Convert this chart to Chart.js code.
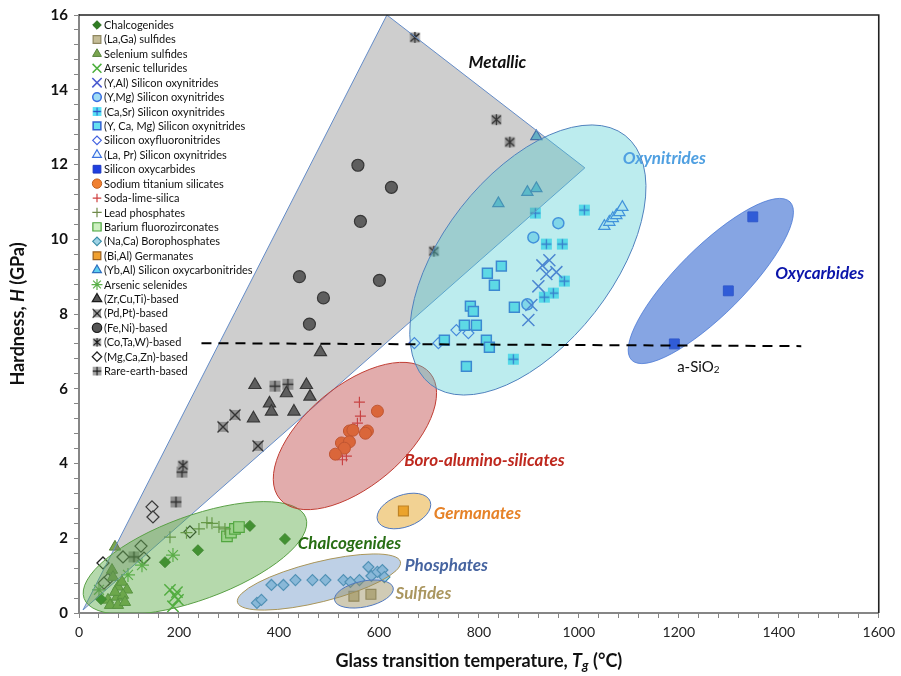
<!DOCTYPE html>
<html><head><meta charset="utf-8">
<script src="https://cdn.jsdelivr.net/npm/chart.js@4.4.1/dist/chart.umd.min.js"></script>
<style>html,body{margin:0;padding:0;background:#fff;}</style>
</head><body>
<canvas id="c" width="901" height="676"></canvas>
<script>
// ---------- DATA (Tg in °C, H in GPa) ----------
const chalcogenides = [[44,0.37],[172,1.36],[238,1.68],[342,2.33],[412,1.98]];
const laGaSulfides = [[550,0.45],[584,0.5]];
const seleniumSulfides = [[72,1.77],[66,1.15],[68,0.96],[78,0.70],[86,0.83],[96,0.62],[58,0.35],[76,0.43],[88,0.48],[62,0.21],[78,0.21],[92,0.29],[72,0.56]];
const arsenicTellurides = [[196,0.56],[182,0.62],[198,0.35],[188,0.18],[192,0.45]];
const yAlSiON = [[941,9.44],[935,9.07],[955,9.12],[927,9.3],[919,8.74],[905,8.24],[899,7.84]];
const yMgSiON = [[959,10.43],[909,10.05],[897,8.26]];
const caSrSiON = [[913,10.7],[1011,10.78],[935,9.87],[967,9.87],[971,8.88],[949,8.56],[931,8.45],[869,6.79]];
const yCaMgSiON = [[845,9.28],[817,9.09],[831,8.77],[871,8.18],[783,8.21],[789,8.07],[771,7.7],[795,7.7],[731,7.3],[815,7.3],[821,7.11],[775,6.6]];
const siOxyfluoronitrides = [[755,7.57],[779,7.49],[671,7.22],[719,7.22]];
const laPrSiON = [[1051,10.35],[1061,10.46],[1068,10.56],[1075,10.64],[1081,10.72],[1087,10.86]];
const siOxycarbides = [[1348,10.6],[1299,8.62],[1191,7.2]];
const sodiumTitaniumSilicates = [[597,5.4],[541,4.87],[548,4.89],[577,4.87],[573,4.81],[525,4.55],[541,4.58],[531,4.41],[513,4.25]];
const sodaLimeSilica = [[561,5.64],[563,5.27],[557,5.08],[527,4.1],[535,4.2]];
const leadPhosphates = [[182,2.03],[215,2.15],[240,2.25],[256,2.42],[266,2.4],[280,2.3],[292,2.25]];
const bariumFluorozirconates = [[296,2.05],[304,2.15],[312,2.25],[320,2.3]];
const naCaBorophosphates = [[356,0.27],[365,0.35],[385,0.75],[409,0.75],[433,0.88],[467,0.88],[493,0.88],[529,0.88],[543,0.83],[561,0.88],[585,0.99],[579,1.23],[597,1.1],[607,1.15],[611,0.96]];
const biAlGermanates = [[649,2.73]];
const ybAlSiOCN = [[915,12.75],[897,11.26],[915,11.36],[839,10.96]];
const arsenicSelenides = [[188,1.55],[126,1.28],[98,1.02],[40,0.62]];
const zrCuTiBased = [[483,6.98],[352,6.1],[455,6.1],[415,5.88],[462,5.79],[381,5.61],[385,5.39],[430,5.39],[349,5.21]];
const pdPtBased = [[288,4.98],[312,5.3],[358,4.47]];
const feNiBased = [[558,11.98],[625,11.39],[563,10.48],[441,9.0],[601,8.9],[489,8.43],[461,7.73]];
const coTaWBased = [[672,15.4],[835,13.2],[862,12.6],[710,9.68],[208,3.95]];
const mgCaZnBased = [[146,2.84],[148,2.57],[222,2.17],[124,1.79],[88,1.5],[130,1.47],[48,1.34],[58,0.9],[50,0.8]];
const rareEarthBased = [[206,3.77],[194,2.97],[110,1.5],[392,6.07],[418,6.12]];

const aSiO2Line = [[245,7.22],[1445,7.14]];
const xTickLabels = [0,200,400,600,800,1000,1200,1400,1600];
const yTickLabels = [0,2,4,6,8,10,12,14,16];

// ---------- custom marker images ----------
function mk(size, draw){ const c=document.createElement('canvas'); c.width=size; c.height=size; const g=c.getContext('2d'); draw(g,size); return c; }
const grayPlus = mk(13,(g)=>{ g.fillStyle='rgb(165,165,165)'; g.fillRect(1,1,11,11); g.strokeStyle='#111'; g.lineWidth=1.4; g.beginPath(); g.moveTo(6.5,1); g.lineTo(6.5,12); g.moveTo(1,6.5); g.lineTo(12,6.5); g.stroke(); });
const grayX = mk(14,(g)=>{ g.fillStyle='rgb(165,165,165)'; g.fillRect(2,2,10,10); g.strokeStyle='#111'; g.lineWidth=1.4; g.beginPath(); g.moveTo(1.5,1.5); g.lineTo(12.5,12.5); g.moveTo(12.5,1.5); g.lineTo(1.5,12.5); g.stroke(); });
const grayAster = mk(13,(g)=>{ g.fillStyle='rgb(170,170,170)'; g.fillRect(1.5,1.5,10,10); g.strokeStyle='#111'; g.lineWidth=1.3; g.beginPath(); g.moveTo(2,2.5); g.lineTo(11,10.5); g.moveTo(11,2.5); g.lineTo(2,10.5); g.moveTo(6.5,1); g.lineTo(6.5,12); g.stroke(); });
const cyanPlus = mk(13,(g)=>{ g.fillStyle='rgb(90,225,245)'; g.fillRect(1,1,11,11); g.strokeStyle='rgb(40,80,200)'; g.lineWidth=1.3; g.beginPath(); g.moveTo(6.5,1.5); g.lineTo(6.5,11.5); g.moveTo(1.5,6.5); g.lineTo(11.5,6.5); g.stroke(); });

const series = [
 {label:'Chalcogenides', data:chalcogenides, ps:'rectRot', r:5.5, bg:'#2f7d22', bc:'#2a6b1e', bw:1},
 {label:'(La,Ga) sulfides', data:laGaSulfides, ps:'rect', r:7, bg:'#c5bd97', bc:'#8f8760', bw:1.2},
 {label:'Selenium sulfides', data:seleniumSulfides, ps:'triangle', r:6.5, bg:'#7aa54f', bc:'#55803a', bw:1},
 {label:'Arsenic tellurides', data:arsenicTellurides, ps:'crossRot', r:8, bg:'#4caf3c', bc:'#4caf3c', bw:1.5},
 {label:'(Y,Al) Silicon oxynitrides', data:yAlSiON, ps:'crossRot', r:8.5, bg:'#4a5bd0', bc:'#4a5bd0', bw:1.5},
 {label:'(Y,Mg) Silicon oxynitrides', data:yMgSiON, ps:'circle', r:5.5, bg:'#9fdcf5', bc:'#3a6ee0', bw:1.5},
 {label:'(Ca,Sr) Silicon oxynitrides', data:caSrSiON, ps:cyanPlus, r:6},
 {label:'(Y, Ca, Mg) Silicon oxynitrides', data:yCaMgSiON, ps:'rect', r:7, bg:'#66e0f0', bc:'#3060d0', bw:1.5},
 {label:'Silicon oxyfluoronitrides', data:siOxyfluoronitrides, ps:'rectRot', r:5.5, bg:'#ffffff', bc:'#4060e0', bw:1.2},
 {label:'(La, Pr) Silicon oxynitrides', data:laPrSiON, ps:'triangle', r:6.5, bg:'#e8f6ff', bc:'#3a70e0', bw:1.2},
 {label:'Silicon oxycarbides', data:siOxycarbides, ps:'rect', r:7, bg:'#1f3fe0', bc:'#1a35c0', bw:1},
 {label:'Sodium titanium silicates', data:sodiumTitaniumSilicates, ps:'circle', r:6, bg:'#f08030', bc:'#c06020', bw:1},
 {label:'Soda-lime-silica', data:sodaLimeSilica, ps:'cross', r:5.5, bg:'#d04040', bc:'#d04040', bw:1.2},
 {label:'Lead phosphates', data:leadPhosphates, ps:'cross', r:6, bg:'#6f8a4a', bc:'#6f8a4a', bw:1.2},
 {label:'Barium fluorozirconates', data:bariumFluorozirconates, ps:'rect', r:7.5, bg:'#cdf0c0', bc:'#4aa33a', bw:1.2},
 {label:'(Na,Ca) Borophosphates', data:naCaBorophosphates, ps:'rectRot', r:5.5, bg:'#9fd3e6', bc:'#3b8ea8', bw:1.2},
 {label:'(Bi,Al) Germanates', data:biAlGermanates, ps:'rect', r:7, bg:'#f0a030', bc:'#9a6020', bw:1.2},
 {label:'(Yb,Al) Silicon oxycarbonitrides', data:ybAlSiOCN, ps:'triangle', r:6.5, bg:'#5fd0f0', bc:'#2d70c0', bw:1.2},
 {label:'Arsenic selenides', data:arsenicSelenides, ps:'star', r:7, bg:'#5bb04a', bc:'#5bb04a', bw:1.2},
 {label:'(Zr,Cu,Ti)-based', data:zrCuTiBased, ps:'triangle', r:7, bg:'#555555', bc:'#1a1a1a', bw:1.2},
 {label:'(Pd,Pt)-based', data:pdPtBased, ps:grayX, r:7},
 {label:'(Fe,Ni)-based', data:feNiBased, ps:'circle', r:6, bg:'#555555', bc:'#1a1a1a', bw:1.2},
 {label:'(Co,Ta,W)-based', data:coTaWBased, ps:grayAster, r:6},
 {label:'(Mg,Ca,Zn)-based', data:mgCaZnBased, ps:'rectRot', r:6, bg:'#ffffff', bc:'#222222', bw:1.3},
 {label:'Rare-earth-based', data:rareEarthBased, ps:grayPlus, r:6}
];

// ---------- region shapes (data coordinates) ----------
const regionPolygon = {pts:[[8,0.08],[616,16.0],[1012,11.91]], fill:'rgba(110,110,110,0.34)', stroke:'rgb(100,140,200)'};
const regionEllipses = [
 {c:[232,1.47], e:[453.8,2.55], ratio:0.356, fill:'rgba(90,170,70,0.45)', stroke:'rgb(90,160,70)'},
 {c:[552,4.736], e:[702.2,6.42], ratio:0.51, fill:'rgba(190,70,70,0.45)', stroke:'rgb(192,60,50)'},
 {c:[898,9.445], e:[1092.6,12.776], ratio:0.538, fill:'rgba(80,205,210,0.38)', stroke:'rgb(79,129,189)'},
 {c:[1264,8.883], e:[1422.4,11.0], ratio:0.30, fill:'rgba(60,110,210,0.62)', stroke:'rgba(60,110,210,0.7)'},
 {c:[650,2.729], e:[702.6,2.986], ratio:0.57, fill:'rgba(230,165,40,0.5)', stroke:'rgb(80,120,190)'},
 {c:[480,0.829], e:[643,1.372], ratio:0.238, fill:'rgba(110,150,200,0.45)', stroke:'rgb(170,150,90)'},
 {c:[570,0.508], e:[628.6,0.674], ratio:0.43, fill:'rgba(150,140,90,0.45)', stroke:'rgb(80,120,190)'}
];
const LF = 'Lato, "Liberation Sans", sans-serif';
const regionLabels = [
 {t:'Metallic', x:837, y:14.73, color:'#111'},
 {t:'Oxynitrides', x:1171, y:12.17, color:'rgb(80,160,225)'},
 {t:'Oxycarbides', x:1482, y:9.07, color:'rgb(10,20,170)'},
 {t:'Boro-alumino-silicates', x:811, y:4.09, color:'rgb(190,40,30)'},
 {t:'Germanates', x:797, y:2.65, color:'rgb(230,130,40)'},
 {t:'Chalcogenides', x:541, y:1.87, color:'rgb(40,110,20)'},
 {t:'Phosphates', x:735, y:1.28, color:'rgb(70,100,160)'},
 {t:'Sulfides', x:689, y:0.51, color:'rgb(170,150,95)'}
];

function drawRich(ctx, segs, cx, cy){
  let total=0; const w=[];
  for(const s of segs){ ctx.font=s.f; const m=ctx.measureText(s.t).width; w.push(m); total+=m; }
  let x=cx-total/2;
  ctx.textAlign='left'; ctx.textBaseline='middle';
  segs.forEach((s,i)=>{ ctx.font=s.f; ctx.fillText(s.t, x, cy+(s.dy||0)); x+=w[i]; });
}

const overlay = {
  id:'overlay',
  afterDatasetsDraw(chart){
    const ctx=chart.ctx, xs=chart.scales.x, ys=chart.scales.y, a=chart.chartArea;
    const px=v=>xs.getPixelForValue(v), py=v=>ys.getPixelForValue(v);
    ctx.save();
    ctx.beginPath(); ctx.rect(a.left,a.top,a.right-a.left,a.bottom-a.top); ctx.clip();
    ctx.beginPath();
    regionPolygon.pts.forEach((p,i)=>{ const X=px(p[0]), Y=py(p[1]); i?ctx.lineTo(X,Y):ctx.moveTo(X,Y); });
    ctx.closePath(); ctx.fillStyle=regionPolygon.fill; ctx.fill();
    ctx.lineWidth=1; ctx.strokeStyle=regionPolygon.stroke; ctx.stroke();
    for(const e of regionEllipses){
      const cx=px(e.c[0]), cy=py(e.c[1]), ex=px(e.e[0]), ey=py(e.e[1]);
      const ra=Math.hypot(ex-cx,ey-cy), ang=Math.atan2(ey-cy,ex-cx);
      ctx.beginPath(); ctx.ellipse(cx,cy,ra,ra*e.ratio,ang,0,Math.PI*2);
      ctx.fillStyle=e.fill; ctx.fill(); ctx.lineWidth=1; ctx.strokeStyle=e.stroke; ctx.stroke();
    }
    ctx.beginPath(); ctx.setLineDash([10,7]); ctx.lineWidth=2; ctx.strokeStyle='#000';
    ctx.moveTo(px(aSiO2Line[0][0]),py(aSiO2Line[0][1])); ctx.lineTo(px(aSiO2Line[1][0]),py(aSiO2Line[1][1])); ctx.stroke();
    ctx.setLineDash([]);
    for(const l of regionLabels){
      ctx.fillStyle=l.color;
      drawRich(ctx,[{t:l.t,f:'italic bold 17px '+LF}],px(l.x),py(l.y));
    }
    ctx.fillStyle='#111';
    drawRich(ctx,[{t:'a-SiO',f:'15px '+LF},{t:'2',f:'10px '+LF,dy:3}],px(1239),py(6.58));
    ctx.restore();
  },
  afterDraw(chart){
    const ctx=chart.ctx, a=chart.chartArea;
    ctx.save();
    ctx.strokeStyle='#222'; ctx.lineWidth=1.6;
    ctx.beginPath(); ctx.moveTo(a.left,a.top); ctx.lineTo(a.right,a.top); ctx.lineTo(a.right,a.bottom); ctx.stroke();
    const H = Chart.helpers;
    chart.data.datasets.forEach((ds,i)=>{
      const x=97, y=25+i*14.42;
      const st=ds.pointStyle;
      if(typeof st==='object'){
        ctx.drawImage(st, x-st.width*0.4, y-st.height*0.4, st.width*0.8, st.height*0.8);
      } else {
        ctx.fillStyle=ds.backgroundColor; ctx.strokeStyle=ds.borderColor; ctx.lineWidth=ds.borderWidth||1;
        H.drawPoint(ctx,{pointStyle:st, radius:ds.pointRadius*0.78, borderWidth:ds.borderWidth||1, rotation:0}, x, y);
      }
      ctx.fillStyle='#111'; ctx.font='11px '+LF; ctx.textAlign='left'; ctx.textBaseline='middle';
      ctx.fillText(ds.label, 104, y+0.5);
    });
    ctx.fillStyle='#111';
    drawRich(ctx,[{t:'Glass transition temperature, ',f:'bold 18px '+LF},{t:'T',f:'italic bold 18px '+LF},{t:'g',f:'italic bold 13px '+LF,dy:5},{t:' (°C)',f:'bold 18px '+LF}], (a.left+a.right)/2, 661);
    ctx.save(); ctx.translate(18,(a.top+a.bottom)/2); ctx.rotate(-Math.PI/2);
    drawRich(ctx,[{t:'Hardness, ',f:'bold 18px '+LF},{t:'H',f:'italic bold 18px '+LF},{t:' (GPa)',f:'bold 18px '+LF}],0,0);
    ctx.restore();
    ctx.restore();
  }
};

const datasets = series.map(s=>({
  label:s.label,
  data:s.data.map(p=>({x:p[0],y:p[1]})),
  pointStyle:s.ps, pointRadius:s.r, pointHoverRadius:s.r,
  backgroundColor:s.bg||'#000', borderColor:s.bc||'#000', borderWidth:s.bw||1,
  showLine:false
}));

const axisGray='rgb(134,134,134)';
new Chart(document.getElementById('c'),{
  type:'scatter',
  data:{datasets},
  options:{
    responsive:false, animation:false,
    layout:{padding:{top:14,right:21,left:0,bottom:0}},
    plugins:{legend:{display:false}, tooltip:{enabled:false}},
    scales:{
      x:{type:'linear',min:0,max:1600,
         afterFit:(s)=>{s.height=63;},
         border:{color:axisGray,width:2},
         grid:{drawOnChartArea:false,drawTicks:true,tickLength:5,color:axisGray},
         ticks:{stepSize:40,autoSkip:false,maxRotation:0,padding:6,color:'#222',
                font:{family:LF,size:14},
                callback:(v)=>xTickLabels.includes(Math.round(v))&&Math.abs(v-Math.round(v))<1e-6?String(Math.round(v)):''}},
      y:{type:'linear',min:0,max:16,
         afterFit:(s)=>{s.width=79;},
         border:{color:axisGray,width:2},
         grid:{drawOnChartArea:false,drawTicks:true,tickLength:5,color:axisGray},
         ticks:{stepSize:0.4,autoSkip:false,padding:6,color:'#111',
                font:{family:LF,size:15,weight:'bold'},
                callback:(v)=>{const r=Math.round(v); return (Math.abs(v-r)<1e-6&&yTickLabels.includes(r))?String(r):'';}}}
    }
  },
  plugins:[overlay]
});
</script>
</body></html>
